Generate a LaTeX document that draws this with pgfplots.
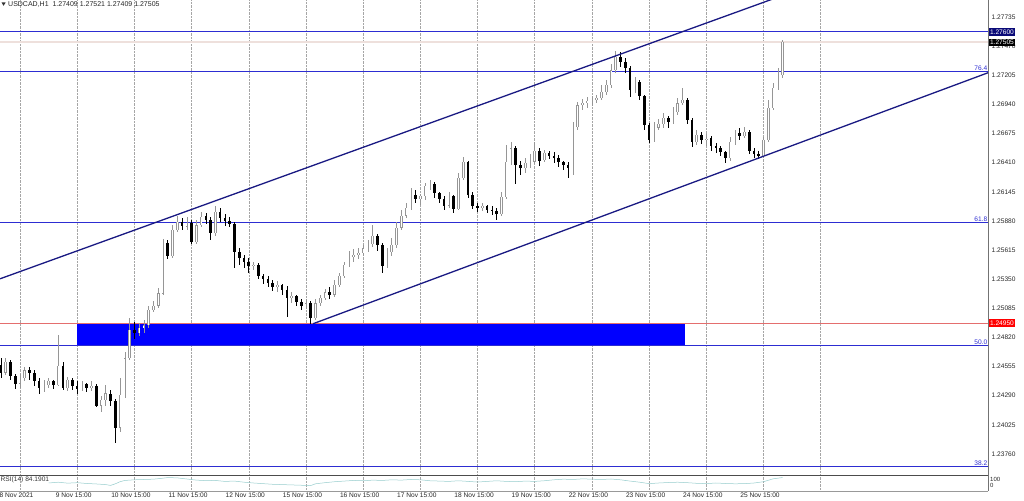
\documentclass[border=0pt]{standalone}
\usepackage{fontspec}
\setmainfont{Liberation Sans}
\usepackage{pgfplots}
\pgfplotsset{compat=1.18}
\usepackage{pgfplotstable}

\definecolor{navyline}{RGB}{25,25,130}
\definecolor{fibblue}{RGB}{45,45,210}
\definecolor{redline}{RGB}{228,110,110}
\definecolor{rectblue}{RGB}{0,0,255}
\definecolor{bidline}{RGB}{238,224,220}
\definecolor{rsiline}{RGB}{150,205,205}
\definecolor{upgray}{RGB}{150,150,150}
\definecolor{boxnavy}{RGB}{10,10,120}

\newcommand{\tkf}{\fontsize{6.6}{7.5}\selectfont}

\pgfplotstableread{
t o h l c
-8 1.2457 1.2463 1.2445 1.2450
-6 1.2450 1.2463 1.2448 1.2460
-4 1.2460 1.2461 1.2443 1.2447
-2 1.2447 1.2449 1.2435 1.2440
0 1.2440 1.2449 1.2436 1.2445
2 1.2445 1.2455 1.2442 1.2452
4 1.2452 1.2455 1.2443 1.2450
6 1.2450 1.2452 1.2438 1.2442
8 1.2442 1.2445 1.2431 1.2436
10 1.2436 1.2443 1.2432 1.2439
12 1.2439 1.2445 1.2436 1.2442
14 1.2442 1.2443 1.2435 1.2439
16 1.2439 1.2484 1.2438 1.2456
18 1.2456 1.2460 1.2434 1.2436
20 1.2436 1.2446 1.2433 1.2443
22 1.2443 1.2445 1.2434 1.2438
24 1.2438 1.2442 1.2431 1.2435
26 1.2435 1.2442 1.2433 1.2440
28 1.2440 1.2441 1.2432 1.2436
30 1.2436 1.2442 1.2433 1.2438
32 1.2438 1.2440 1.2419 1.2420
34 1.2420 1.2429 1.2414 1.2425
36 1.2425 1.2439 1.2420 1.2431
38 1.2431 1.2434 1.2420 1.2424
40 1.2424 1.2426 1.2386 1.2400
42 1.2400 1.2445 1.2396 1.2430
44 1.2430 1.2469 1.2427 1.2463
46 1.2463 1.2500 1.2461 1.2489
48 1.2489 1.2496 1.2481 1.2486
50 1.2486 1.2495 1.2483 1.2491
52 1.2491 1.2498 1.2486 1.2493
54 1.2493 1.2511 1.2491 1.2507
56 1.2507 1.2515 1.2505 1.2511
58 1.2511 1.2527 1.2509 1.2522
60 1.2522 1.2572 1.2521 1.2568
62 1.2568 1.2571 1.2553 1.2556
64 1.2556 1.2584 1.2554 1.2580
66 1.2580 1.2592 1.2578 1.2587
68 1.2587 1.2591 1.2580 1.2583
70 1.2583 1.2592 1.2580 1.2586
72 1.2586 1.2589 1.2567 1.2569
74 1.2569 1.2589 1.2567 1.2584
76 1.2584 1.2596 1.2582 1.2592
78 1.2592 1.2595 1.2585 1.2589
80 1.2589 1.2592 1.2571 1.2577
82 1.2577 1.2602 1.2574 1.2596
84 1.2596 1.2600 1.2587 1.2591
86 1.2591 1.2594 1.2583 1.2588
88 1.2588 1.2592 1.2582 1.2585
90 1.2585 1.2587 1.2545 1.2560
92 1.2560 1.2563 1.2548 1.2554
94 1.2554 1.2557 1.2545 1.2551
96 1.2551 1.2554 1.2541 1.2547
98 1.2547 1.2551 1.2543 1.2548
100 1.2548 1.2550 1.2535 1.2538
102 1.2538 1.2540 1.2531 1.2535
104 1.2535 1.2538 1.2528 1.2532
106 1.2532 1.2534 1.2524 1.2528
108 1.2528 1.2533 1.2523 1.2530
110 1.2530 1.2531 1.2521 1.2525
112 1.2525 1.2529 1.2501 1.2518
114 1.2518 1.2523 1.2513 1.2520
116 1.2520 1.2521 1.2511 1.2514
118 1.2514 1.2517 1.2507 1.2511
120 1.2511 1.2517 1.2508 1.2513
122 1.2513 1.2515 1.2494 1.2500
124 1.2500 1.2517 1.2498 1.2513
126 1.2513 1.2521 1.2511 1.2518
128 1.2518 1.2526 1.2516 1.2523
130 1.2523 1.2528 1.2517 1.2521
132 1.2521 1.2534 1.2519 1.2530
134 1.2530 1.2541 1.2528 1.2538
136 1.2538 1.2551 1.2536 1.2548
138 1.2548 1.2561 1.2546 1.2556
140 1.2556 1.2562 1.2551 1.2557
142 1.2557 1.2563 1.2553 1.2559
144 1.2559 1.2566 1.2556 1.2563
146 1.2563 1.2571 1.2560 1.2567
148 1.2567 1.2584 1.2564 1.2574
150 1.2574 1.2576 1.2561 1.2566
152 1.2566 1.2568 1.2541 1.2547
154 1.2547 1.2563 1.2545 1.2560
156 1.2560 1.2572 1.2556 1.2566
158 1.2566 1.2587 1.2563 1.2582
160 1.2582 1.2598 1.2580 1.2593
162 1.2593 1.2604 1.2591 1.2600
164 1.2600 1.2618 1.2598 1.2612
166 1.2612 1.2616 1.2604 1.2608
168 1.2608 1.2613 1.2603 1.2611
170 1.2611 1.2623 1.2607 1.2620
172 1.2620 1.2625 1.2616 1.2622
174 1.2622 1.2623 1.2609 1.2613
176 1.2613 1.2614 1.2604 1.2608
178 1.2608 1.2611 1.2598 1.2602
180 1.2602 1.2614 1.2600 1.2611
182 1.2611 1.2612 1.2595 1.2599
184 1.2599 1.2632 1.2598 1.2627
186 1.2627 1.2646 1.2625 1.2642
188 1.2642 1.2643 1.2609 1.2612
190 1.2612 1.2614 1.2599 1.2602
192 1.2602 1.2604 1.2596 1.2600
194 1.2600 1.2604 1.2597 1.2602
196 1.2602 1.2603 1.2595 1.2598
198 1.2598 1.2602 1.2593 1.2597
200 1.2597 1.2600 1.2589 1.2594
202 1.2594 1.2614 1.2592 1.2610
204 1.2610 1.2657 1.2608 1.2642
206 1.2642 1.2660 1.2639 1.2654
208 1.2654 1.2656 1.2622 1.2639
210 1.2639 1.2643 1.2630 1.2636
212 1.2636 1.2645 1.2632 1.2641
214 1.2641 1.2649 1.2636 1.2642
216 1.2642 1.2660 1.2640 1.2652
218 1.2652 1.2654 1.2638 1.2643
220 1.2643 1.2653 1.2642 1.2650
222 1.2650 1.2652 1.2644 1.2647
224 1.2647 1.2651 1.2641 1.2645
226 1.2645 1.2648 1.2637 1.2642
228 1.2642 1.2643 1.2634 1.2639
230 1.2639 1.2642 1.2627 1.2636
232 1.2636 1.2678 1.2630 1.2673
234 1.2673 1.2696 1.2671 1.2693
236 1.2693 1.2699 1.2689 1.2695
238 1.2695 1.2701 1.2691 1.2697
240 1.2697 1.2702 1.2693 1.2698
242 1.2698 1.2703 1.2695 1.2700
244 1.2700 1.2712 1.2698 1.2705
246 1.2705 1.2716 1.2703 1.2712
248 1.2712 1.2731 1.2709 1.2725
250 1.2725 1.2743 1.2723 1.2737
252 1.2737 1.2742 1.2728 1.2733
254 1.2733 1.2736 1.2723 1.2727
256 1.2727 1.2729 1.2701 1.2707
258 1.2707 1.2719 1.2704 1.2714
260 1.2714 1.2716 1.2698 1.2702
262 1.2702 1.2703 1.2671 1.2675
264 1.2675 1.2677 1.2659 1.2662
266 1.2662 1.2678 1.2660 1.2673
268 1.2673 1.2681 1.2671 1.2676
270 1.2676 1.2686 1.2673 1.2682
272 1.2682 1.2684 1.2673 1.2678
274 1.2678 1.2692 1.2676 1.2687
276 1.2687 1.2700 1.2684 1.2695
278 1.2695 1.2709 1.2693 1.2698
280 1.2698 1.2700 1.2676 1.2680
282 1.2680 1.2682 1.2655 1.2660
284 1.2660 1.2671 1.2657 1.2666
286 1.2666 1.2669 1.2658 1.2662
288 1.2662 1.2667 1.2656 1.2663
290 1.2663 1.2665 1.2652 1.2656
292 1.2656 1.2659 1.2650 1.2654
294 1.2654 1.2656 1.2647 1.2651
296 1.2651 1.2652 1.2641 1.2645
298 1.2645 1.2664 1.2643 1.2660
300 1.2660 1.2671 1.2657 1.2668
302 1.2668 1.2673 1.2662 1.2665
304 1.2665 1.2673 1.2663 1.2669
306 1.2669 1.2671 1.2649 1.2652
308 1.2652 1.2654 1.2645 1.2649
310 1.2649 1.2652 1.2644 1.2647
312 1.2647 1.2664 1.2645 1.2662
314 1.2662 1.2698 1.2660 1.2691
316 1.2691 1.2714 1.2689 1.2709
318 1.2709 1.2727 1.2707 1.2721
320 1.2721 1.2753 1.2718 1.27505
}\candles

\pgfplotstableread{
t r
12 50
16 55
20 49
24 52
28 47
32 44
36 40
38 35
40 45
42 58
44 66
48 70
52 72
56 74
60 80
62 84
66 82
70 75
74 68
78 65
82 66
86 60
90 62
94 55
98 50
102 46
106 42
110 40
114 38
118 36
122 34
124 45
128 52
132 58
136 62
140 66
144 64
148 68
152 66
156 70
160 68
164 72
168 70
172 64
176 62
180 60
184 64
188 60
192 56
196 60
200 64
204 60
208 58
212 62
216 60
220 64
224 70
228 74
232 72
236 76
240 74
244 72
248 75
252 70
256 62
260 55
264 46
268 50
272 53
276 55
280 52
284 48
288 46
292 50
296 47
300 45
304 46
308 50
312 58
316 76
320 84.19
}\rsi

\begin{document}
\begin{tikzpicture}
\useasboundingbox (0pt,0pt) rectangle (1024pt,500pt);
\begin{axis}[
  at={(0pt,26pt)}, anchor=south west, scale only axis,
  width=988pt, height=474pt,
  xmin=-8.39, xmax=406.2, ymin=1.23577, ymax=1.2789,
  axis line style={draw=none},
  xtick={0,24,...,336}, xticklabels={}, xtick style={draw=none},
  xmajorgrids, grid style={densely dotted, black!35, line width=0.5pt},
  ytick={1.23760,1.24025,1.24290,1.24555,1.24820,1.25085,1.25350,1.25615,1.25880,1.26145,1.26410,1.26675,1.26940,1.27205,1.27470,1.27735},
  yticklabels={1.23760,1.24025,1.24290,1.24555,1.24820,1.25085,1.25350,1.25615,1.25880,1.26145,1.26410,1.26675,1.26940,1.27205,1.27470,1.27735},
  yticklabel pos=right, ytick style={draw=none},
  yticklabel style={font=\tkf, anchor=west, inner sep=0pt, xshift=3.5pt, text=black!85},
  unbounded coords=discard,
]
% bid line and horizontal levels
\addplot[bidline, line width=2.2pt] coordinates {(-8.39,1.27505) (406.2,1.27505)};
\addplot[fibblue, line width=0.9pt] coordinates {(-8.39,1.27600) (406.2,1.27600)};
\addplot[fibblue, line width=0.9pt] coordinates {(-8.39,1.2724) (406.2,1.2724)};
\addplot[fibblue, line width=0.9pt] coordinates {(-8.39,1.2587) (406.2,1.2587)};
\addplot[fill=rectblue, draw=none] coordinates {(23.9,1.2475) (279.1,1.2475) (279.1,1.2495) (23.9,1.2495)};
\addplot[redline, line width=0.8pt] coordinates {(-8.39,1.2495) (406.2,1.2495)};
\addplot[fibblue, line width=0.9pt] coordinates {(-8.39,1.2475) (406.2,1.2475)};
\addplot[fibblue, line width=0.9pt] coordinates {(-8.39,1.2365) (406.2,1.2365)};

% candles: wicks
\addplot[draw=none, no markers, error bars/.cd, y dir=both, y explicit, error mark=none,
  error bar style={draw=upgray, line width=0.6pt, solid}]
  table[x=t, y expr={\thisrow{c}>\thisrow{o} ? (\thisrow{h}+\thisrow{l})/2 : nan},
        y error expr={(\thisrow{h}-\thisrow{l})/2}] {\candles};
\addplot[draw=none, no markers, error bars/.cd, y dir=both, y explicit, error mark=none,
  error bar style={draw=black, line width=0.6pt, solid}]
  table[x=t, y expr={\thisrow{c}>\thisrow{o} ? nan : (\thisrow{h}+\thisrow{l})/2},
        y error expr={(\thisrow{h}-\thisrow{l})/2}] {\candles};
% candles: bodies
\addplot[draw=none, no markers, error bars/.cd, y dir=both, y explicit, error mark=none,
  error bar style={draw=upgray, line width=2.6pt, solid}]
  table[x=t, y expr={\thisrow{c}>\thisrow{o} ? (\thisrow{o}+\thisrow{c})/2 : nan},
        y error expr={abs(\thisrow{c}-\thisrow{o})/2}] {\candles};
\addplot[draw=none, no markers, error bars/.cd, y dir=both, y explicit, error mark=none,
  error bar style={draw=white, line width=1.0pt, solid}]
  table[x=t, y expr={\thisrow{c}>\thisrow{o} ? (\thisrow{o}+\thisrow{c})/2 : nan},
        y error expr={max(abs(\thisrow{c}-\thisrow{o})/2-0.000012,0)}] {\candles};
\addplot[draw=none, no markers, error bars/.cd, y dir=both, y explicit, error mark=none,
  error bar style={draw=black, line width=2.6pt, solid}]
  table[x=t, y expr={\thisrow{c}>\thisrow{o} ? nan : (\thisrow{o}+\thisrow{c})/2},
        y error expr={abs(\thisrow{c}-\thisrow{o})/2}] {\candles};

% channel
\addplot[navyline, line width=1.3pt] coordinates {(-8.39,1.25353) (330,1.2801)};
\addplot[navyline, line width=1.3pt] coordinates {(122.95,1.24944) (406.2,1.27228)};

% fibo labels
\node[anchor=south east, inner sep=0.6pt, text=fibblue, font=\tkf] at (axis cs:406.2,1.2724) {76.4};
\node[anchor=south east, inner sep=0.6pt, text=fibblue, font=\tkf] at (axis cs:406.2,1.2587) {61.8};
\node[anchor=south east, inner sep=0.6pt, text=fibblue, font=\tkf] at (axis cs:406.2,1.2475) {50.0};
\node[anchor=south east, inner sep=0.6pt, text=fibblue, font=\tkf] at (axis cs:406.2,1.2365) {38.2};

\coordinate (b1) at (axis cs:406.2,1.27600);
\coordinate (b2) at (axis cs:406.2,1.27505);
\coordinate (b3) at (axis cs:406.2,1.24950);
\end{axis}

% RSI pane
\begin{axis}[
  at={(0pt,9pt)}, anchor=south west, scale only axis,
  width=988pt, height=16pt,
  xmin=-8.39, xmax=406.2, ymin=0, ymax=100,
  axis line style={draw=none}, ytick=\empty,
  xtick={0,24,...,336},
  xticklabels={8 Nov 2021,9 Nov 15:00,10 Nov 15:00,11 Nov 15:00,12 Nov 15:00,15 Nov 15:00,16 Nov 15:00,17 Nov 15:00,18 Nov 15:00,19 Nov 15:00,22 Nov 15:00,23 Nov 15:00,24 Nov 15:00,25 Nov 15:00,{}},
  xtick style={draw=none},
  xmajorgrids, grid style={densely dotted, black!35, line width=0.5pt},
  xticklabel style={font=\tkf, anchor=north, inner sep=0pt, yshift=-1.5pt, xshift=-3.5pt, text=black!85},
]
\addplot[rsiline, line width=0.5pt] table[x=t, y=r] {\rsi};
\end{axis}

% frame
\draw[black!70, line width=0.7pt] (0pt,25pt) -- (988pt,25pt);
\draw[black!40, line width=0.5pt] (0pt,9pt) -- (988pt,9pt);
\draw[black!55, line width=0.6pt] (988pt,9pt) -- (988pt,500pt);

% price boxes
\node[anchor=west, fill=boxnavy, text=white, font=\tkf, inner xsep=1.2pt, inner ysep=1.4pt] at ([xshift=0.6pt]b1) {1.27600};
\node[anchor=west, fill=black, text=white, font=\tkf, inner xsep=1.2pt, inner ysep=1.4pt] at ([xshift=0.6pt]b2) {1.27505};
\node[anchor=west, fill=red, text=white, font=\tkf, inner xsep=1.2pt, inner ysep=1.4pt] at ([xshift=0.6pt]b3) {1.24950};

% title
\fill[black!80] (1.5pt,497.6pt) -- (5.7pt,497.6pt) -- (3.6pt,494.2pt) -- cycle;
\node[anchor=west, inner sep=0pt, font=\fontsize{7}{8}\selectfont, text=black!85] at (8pt,495.8pt) {USDCAD,H1\ \ 1.27409 1.27521 1.27409 1.27505};

% RSI labels
\node[anchor=west, inner sep=0pt, font=\tkf, text=black!80] at (0.5pt,20pt) {RSI(14) 84.1901};
\node[anchor=west, inner sep=0pt, font=\fontsize{6}{6}\selectfont, text=black!85] at (990pt,20.5pt) {100};
\node[anchor=west, inner sep=0pt, font=\fontsize{6}{6}\selectfont, text=black!85] at (990pt,15pt) {0};
\end{tikzpicture}
\end{document}
